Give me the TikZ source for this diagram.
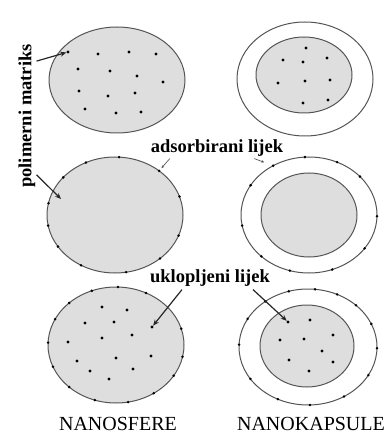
\documentclass[tikz,border=0pt]{standalone}
\usepackage{fontspec}
\setmainfont{Liberation Serif}
\usepackage{xcolor}
\usepackage{tikz}
\usetikzlibrary{arrows.meta,shapes.geometric}

\definecolor{rim}{RGB}{85,85,85}
\definecolor{core}{RGB}{222,222,222}

\begin{document}
\begin{tikzpicture}[
    x=1pt, y=-1pt,
    sphere/.style={ellipse, draw=rim, fill=core, line width=1pt, inner sep=0pt, outer sep=0pt},
    shell/.style={ellipse, draw=rim, fill=white, line width=1pt, inner sep=0pt, outer sep=0pt},
    dot/.style={circle, fill=black, inner sep=0pt, minimum size=3.2pt},
    lbl/.style={font=\fontsize{18.5}{20}\selectfont\bfseries, inner sep=1pt},
    title/.style={font=\fontsize{20}{22}\selectfont, inner sep=1pt},
    ptr/.style={draw=black!85, line width=1.2pt, -{Stealth[length=6pt,width=5pt]}},
    hair/.style={draw=black!70, line width=0.6pt, -{Stealth[length=3pt,width=2.5pt]}}
    ]
    \useasboundingbox (0,0) rectangle (387,435);

    % nanosfere (left column)
    \node[sphere, minimum width=136pt, minimum height=106pt] (sTop) at (117,80) {};
    \node[sphere, minimum width=136pt, minimum height=116pt] (sMid) at (115,215) {};
    \node[sphere, minimum width=136pt, minimum height=116pt] (sBot) at (116,345) {};

    % nanokapsule (right column)
    \node[shell, minimum width=136pt, minimum height=114pt] (kTop) at (305,79) {};
    \node[sphere, minimum width=96pt, minimum height=76pt] (kTopIn) at (304,75) {};
    \node[shell, minimum width=136pt, minimum height=116pt] (kMid) at (309,215) {};
    \node[sphere, minimum width=96pt, minimum height=84pt] (kMidIn) at (309,215) {};
    \node[shell, minimum width=138pt, minimum height=116pt] (kBot) at (308,347) {};
    \node[sphere, minimum width=94pt, minimum height=82pt] (kBotIn) at (307,346) {};

    % drug inside the matrix
    \node[dot] (dA) at (68,52) {};
    \foreach \px/\py [count=\i] in {98/54,129/52,156/54,78/69,110/71,137/76,163/82,
        79/91,108/96,135/93,85/109,116/113,141/112}
      \node[dot] (sTopD\i) at (\px,\py) {};
    \foreach \px/\py [count=\i] in {306/48,283/60,303/62,327/58,278/83,305/81,
        330/80,303/103,328/100}
      \node[dot] (kTopD\i) at (\px,\py) {};
    \node[dot] (uL) at (152,327) {};
    \foreach \px/\py [count=\i] in {102/307,127/310,85/323,114/322,68/342,102/338,
        132/335,77/361,116/358,151/356,90/371,133/369,109/379}
      \node[dot] (sBotD\i) at (\px,\py) {};
    \node[dot] (uR) at (288,322) {};
    \foreach \px/\py [count=\i] in {310/320,280/340,304/339,333/335,322/351,
        289/360,333/362,309/371}
      \node[dot] (kBotD\i) at (\px,\py) {};

    % drug on the surface
    \foreach \a in {86,119,144,170,189,209,236,281,316,342,16,45}
      \node[dot, minimum size=2.8pt] (sMid\a) at (sMid.\a) {};
    \foreach \a in {94,62,37,359,329,293,251,221,189,153,126}
      \node[dot, minimum size=2.8pt] (kMid\a) at (kMid.\a) {};
    \foreach \a in {88,114,138,157,178,199,222,249,282,308,332,350,14,60}
      \node[dot, minimum size=2.8pt] (sBot\a) at (sBot.\a) {};
    \foreach \a in {109,83,61,41,20,359,335,306,272,240,209,178,155,133}
      \node[dot, minimum size=2.8pt] (kBot\a) at (kBot.\a) {};
    \coordinate (mIn) at (61,199);

    % labels
    \node[lbl, rotate=90] (pm) at (27,116) {polimerni matriks};
    \node[lbl] (ad) at (217,148) {adsorbirani lijek};
    \node[lbl] (uk) at (210,278) {uklopljeni lijek};
    \node[title] (nsf) at (118,424) {NANOSFERE};
    \node[title] (nkp) at (311,424) {NANOKAPSULE};

    \draw[ptr] ([yshift=-18pt]pm.south east) -- (dA);
    \draw[ptr] ([yshift=14pt]pm.south west) -- (mIn);
    \draw[hair, shorten >=2pt] ([xshift=20pt,yshift=-1pt]ad.south west) -- (sMid45);
    \draw[hair, shorten >=8pt] ([xshift=-30pt,yshift=-1pt]ad.south east) -- (kMid126);
    \draw[ptr] ([xshift=-28pt,yshift=-2pt]uk.south) -- (uL);
    \draw[ptr] ([xshift=43pt,yshift=-2pt]uk.south) -- (uR);
  \end{tikzpicture}
\end{document}
